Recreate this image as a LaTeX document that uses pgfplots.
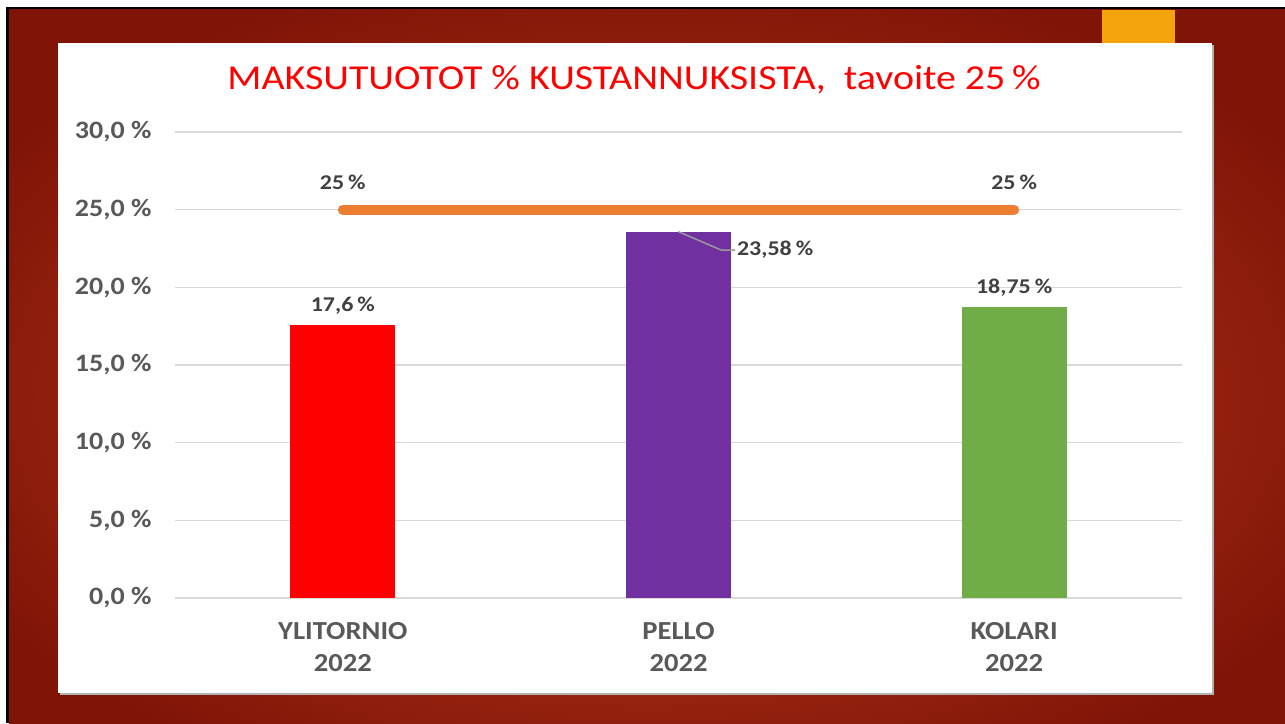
\documentclass[border=0pt]{standalone}
\usepackage{pgfplots}
\pgfplotsset{compat=1.18}
\usepackage{graphicx}
\usepackage{fontspec}
\setmainfont{Carlito}
\definecolor{bgdark}{HTML}{7E1306}
\definecolor{bglight}{HTML}{B5361A}
\definecolor{accent}{HTML}{F4A40B}
\definecolor{tickgray}{HTML}{595959}
\definecolor{lblgray}{HTML}{404040}
\definecolor{gridgray}{HTML}{D9D9D9}
\definecolor{barpurple}{HTML}{7030A0}
\definecolor{bargreen}{HTML}{70AD47}
\definecolor{lineorange}{HTML}{ED7D31}
\pgfdeclareradialshading{bgshade}{\pgfpoint{0bp}{-4bp}}{color(0bp)=(bglight); color(7.5bp)=(bglight); color(31bp)=(bgdark); color(50bp)=(bgdark)}
\newcommand{\tl}[1]{\scalebox{1.12}[1]{#1}}
\newcommand{\dl}[1]{\scalebox{1.14}[1]{#1}}
\newcommand{\cl}[2]{\scalebox{1.1}[1]{\begin{tabular}{@{}c@{}}#1\\#2\end{tabular}}}
\begin{document}
\begin{tikzpicture}[x=1pt,y=1pt]
\path[fill=white] (0,0) rectangle (1285,723);
\fill[black] (6,0) rectangle (1285,716);
\shade[shading=bgshade] (9,0) rectangle (1285,713);
\fill[black!30] (60,28) rectangle (1214,678);
\fill[white] (58,30) rectangle (1212,680);
\fill[accent] (1102,680) rectangle (1175,713);
\node[text=red, font=\fontsize{35}{40}\selectfont, inner sep=0pt] at (634,643) {\scalebox{1.14}[1]{MAKSUTUOTOT \% KUSTANNUKSISTA,\ \ tavoite 25\,\%}};
\begin{axis}[
  at={(175pt,125pt)}, anchor=south west,
  scale only axis, width=1007pt, height=466pt,
  xmin=-0.5, xmax=2.5, ymin=0, ymax=30,
  axis line style={draw=none},
  major tick length=0pt,
  ymajorgrids, grid style={gridgray, line width=1.6pt},
  ytick={0,5,10,15,20,25,30},
  yticklabels={\tl{0,0 \%},\tl{5,0 \%},\tl{10,0 \%},\tl{15,0 \%},\tl{20,0 \%},\tl{25,0 \%},\tl{30,0 \%}},
  yticklabel style={font=\fontsize{25}{28}\selectfont\bfseries, text=tickgray, anchor=east, xshift=-20pt},
  xtick={0,1,2},
  xticklabels={\cl{YLITORNIO}{2022},\cl{PELLO}{2022},\cl{KOLARI}{2022}},
  xticklabel style={font=\fontsize{26}{32}\selectfont\bfseries, text=tickgray, anchor=north, yshift=-16pt},
  clip=false,
]
\addplot[ybar, bar width=105pt, fill=red, draw=none,
  nodes near coords={\dl{17,6\,\%}},
  every node near coord/.style={font=\fontsize{21}{23}\selectfont\bfseries, text=lblgray, anchor=south, yshift=7pt}]
  coordinates {(0,17.6)};
\addplot[ybar, bar width=105pt, fill=barpurple, draw=none] coordinates {(1,23.58)};
\addplot[ybar, bar width=105pt, fill=bargreen, draw=none,
  nodes near coords={\dl{18,75\,\%}},
  every node near coord/.style={font=\fontsize{21}{23}\selectfont\bfseries, text=lblgray, anchor=south, yshift=7pt}]
  coordinates {(2,18.75)};
\addplot[lineorange, line width=10pt, line cap=round, mark=none,
  nodes near coords={\dl{25\,\%}},
  every node near coord/.style={font=\fontsize{21}{23}\selectfont\bfseries, text=lblgray, anchor=south, yshift=12pt}]
  coordinates {(0,25) (2,25)};
\draw[black!40, line width=1.5pt] (axis cs:1,23.58) -- (axis cs:1.127,22.4) -- (axis cs:1.168,22.4);
\node[font=\fontsize{21}{23}\selectfont\bfseries, text=lblgray, anchor=west, inner sep=2pt] at (axis cs:1.168,22.4) {\dl{23,58\,\%}};
\end{axis}
\end{tikzpicture}
\end{document}
